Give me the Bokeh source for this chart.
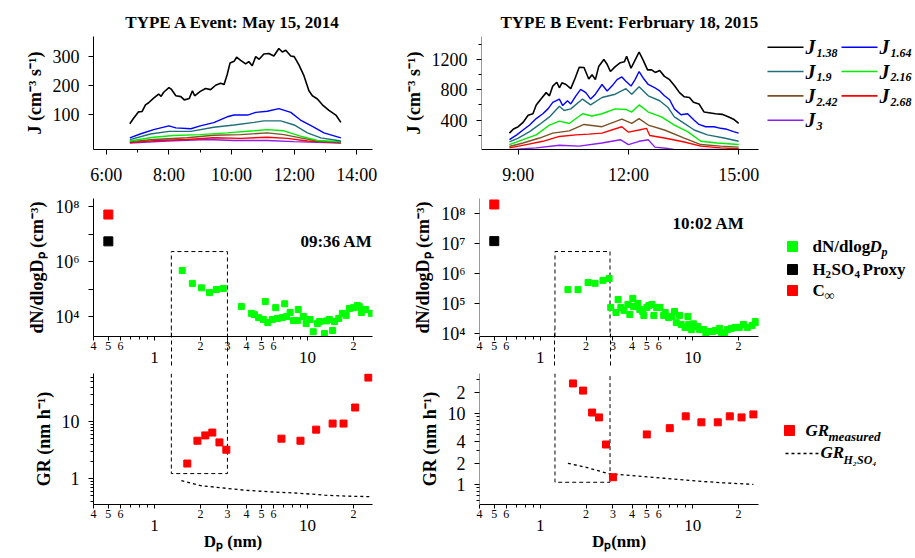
import numpy as np
from bokeh.plotting import figure
from bokeh.models import Range1d, FixedTicker, Label, LogAxis
from bokeh.layouts import row, column
from bokeh.embed import file_html
from bokeh.resources import INLINE
from bokeh.core.properties import value

SERIF = "Liberation Serif"

# ---------------- data: TYPE A (May 15, 2014) nucleation rates ----------------
tA_138 = [6.75, 6.87, 7.03, 7.14, 7.25, 7.35, 7.51, 7.67, 7.75, 7.83, 8.0, 8.07, 8.22, 8.38, 8.49, 8.65,
          8.75, 8.82, 9.0, 9.17, 9.33, 9.49, 9.65, 9.76, 9.86, 9.95, 10.08, 10.16, 10.29, 10.45, 10.55,
          10.66, 10.77, 10.88, 11.03, 11.19, 11.35, 11.51, 11.62, 11.73, 11.89, 12.0, 12.15, 12.31,
          12.47, 12.58, 12.74, 12.9, 13.11, 13.33, 13.49]
JA_138 = [68, 87, 109, 110, 133, 140, 156, 170, 162, 176, 192, 187, 164, 161, 150, 155,
          181, 164, 179, 189, 185, 200, 207, 203, 237, 276, 282, 296, 285, 273, 281,
          267, 298, 289, 307, 309, 300, 326, 314, 320, 300, 298, 270, 233,
          181, 164, 153, 133, 114, 98, 73]
tA_164 = [6.75, 7.08, 7.51, 8.0, 8.22, 8.7, 9.0, 9.43, 9.86, 10.08, 10.51, 10.77, 11.14, 11.51, 11.89,
          12.2, 12.58, 12.95, 13.49]
JA_164 = [20, 33, 48, 61, 54, 51, 61, 72, 92, 98, 98, 107, 111, 120, 107, 81, 59, 37, 20]
tA_19 = [6.75, 7.41, 8.0, 8.7, 9.43, 10.08, 10.72, 11.03, 11.57, 12.0, 12.42, 12.85, 13.49]
JA_19 = [14, 33, 42, 42, 56, 64, 73, 78, 78, 64, 37, 20, 9]
tA_216 = [6.75, 7.51, 8.15, 9.0, 9.86, 10.72, 11.14, 11.67, 12.2, 12.74, 13.49]
JA_216 = [9, 22, 28, 31, 37, 44, 48, 44, 26, 11, 7]
tA_242 = [6.75, 7.51, 8.58, 9.43, 10.29, 11.14, 11.67, 12.2, 12.74, 13.49]
JA_242 = [7, 14, 20, 29, 31, 37, 31, 20, 9, 4]
tA_268 = [6.75, 7.62, 8.58, 9.43, 10.29, 11.14, 11.78, 12.42, 13.49]
JA_268 = [4, 11, 14, 20, 18, 22, 18, 9, 3]
tA_3 = [6.75, 7.94, 9.22, 10.08, 11.14, 11.99, 13.49]
JA_3 = [2, 9, 14, 11, 11, 7, 2]

# ---------------- data: TYPE B (February 18, 2015) nucleation rates ----------------
tB_138 = [8.76, 8.87, 9.0, 9.13, 9.27, 9.4, 9.49, 9.63, 9.76, 9.85, 9.94, 10.05, 10.12, 10.19, 10.3,
          10.43, 10.55, 10.66, 10.79, 10.92, 11.01, 11.1, 11.19, 11.33, 11.42, 11.51, 11.64, 11.78,
          11.89, 11.95, 12.07, 12.16, 12.29, 12.4, 12.52, 12.63, 12.73, 12.85, 12.98, 13.12, 13.25,
          13.39, 13.52, 13.66, 13.77, 13.92, 14.06, 14.19, 14.37, 14.55, 14.73, 14.86, 15.0]
JB_138 = [227, 282, 312, 368, 462, 483, 599, 684, 761, 719, 847, 898, 825, 890, 868,
          813, 954, 1095, 1091, 941, 997, 932, 1104, 1198, 1134, 1039, 1104, 1155,
          1168, 1240, 1082, 1168, 1296, 1189, 1061, 1061, 1027, 1052, 975, 932, 855,
          761, 706, 697, 633, 612, 505, 496, 483, 475, 441, 411, 355]
tB_164 = [8.76, 8.96, 9.13, 9.31, 9.49, 9.67, 9.81, 9.94, 10.12, 10.21, 10.34, 10.43, 10.57, 10.7,
          10.84, 10.97, 11.1, 11.28, 11.42, 11.55, 11.69, 11.82, 11.93, 12.07, 12.18, 12.29, 12.4,
          12.54, 12.72, 12.85, 12.98, 13.12, 13.25, 13.43, 13.61, 13.79, 13.92, 14.1, 14.33, 14.51,
          14.68, 14.86, 15.0]
JB_164 = [141, 205, 269, 334, 419, 483, 547, 633, 676, 590, 654, 612, 719, 804,
          761, 676, 740, 868, 783, 847, 932, 967, 911, 847, 932, 1039, 954,
          868, 825, 783, 719, 667, 547, 470, 483, 398, 342, 312, 312, 291,
          278, 248, 227]
tB_19 = [8.76, 9.0, 9.31, 9.58, 9.85, 10.12, 10.25, 10.43, 10.75, 10.97, 11.28, 11.64, 11.93, 12.09,
         12.29, 12.54, 12.85, 13.07, 13.25, 13.52, 13.79, 14.15, 14.6, 15.0]
JB_19 = [111, 163, 248, 342, 441, 582, 526, 547, 676, 599, 697, 740, 813, 740,
         838, 719, 654, 569, 441, 355, 269, 205, 163, 120]
tB_216 = [8.76, 9.13, 9.49, 9.85, 10.12, 10.39, 10.75, 11.01, 11.28, 11.64, 11.93, 12.09, 12.29,
          12.54, 12.9, 13.25, 13.61, 13.97, 14.42, 15.0]
JB_216 = [77, 141, 205, 334, 385, 355, 483, 453, 483, 547, 539, 505, 599,
          505, 441, 334, 248, 120, 98, 77]
tB_242 = [8.76, 9.13, 9.58, 9.94, 10.39, 10.79, 11.28, 11.82, 12.09, 12.29, 12.54, 12.98, 13.52,
          13.97, 14.51, 15.0]
JB_242 = [51, 98, 163, 227, 257, 342, 312, 411, 355, 419, 334, 269, 163, 77, 56, 43]
tB_268 = [8.76, 9.22, 9.67, 10.12, 10.57, 10.92, 11.28, 11.82, 12.0, 12.29, 12.49, 12.58, 12.98,
          13.52, 13.97, 14.51, 15.0]
JB_268 = [34, 77, 120, 184, 205, 214, 227, 312, 240, 269, 291, 197, 163, 111, 56, 34, 21]
tB_3 = [8.76, 9.49, 10.12, 10.66, 11.28, 11.78, 12.0, 12.29, 12.54, 12.72, 13.07, 13.34, 13.97,
        14.51, 15.0]
JB_3 = [9, 34, 68, 56, 98, 141, 77, 120, 141, 43, 26, 4, 13, 13, 0]

J_names = ["1.38", "1.64", "1.9", "2.16", "2.42", "2.68", "3"]
J_colors = ["#000000", "#0000ff", "#1f6f78", "#00ee00", "#7a5226", "#ff0000", "#8a1ff0"]
A_series = [(tA_138, JA_138), (tA_164, JA_164), (tA_19, JA_19), (tA_216, JA_216),
            (tA_242, JA_242), (tA_268, JA_268), (tA_3, JA_3)]
B_series = [(tB_138, JB_138), (tB_164, JB_164), (tB_19, JB_19), (tB_216, JB_216),
            (tB_242, JB_242), (tB_268, JB_268), (tB_3, JB_3)]

time_ticks_A = [6, 8, 10, 12, 14]
time_labels_A = ["6:00", "8:00", "10:00", "12:00", "14:00"]
time_minor_A = [7, 9, 11, 13]
time_ticks_B = [9, 12, 15]
time_labels_B = ["9:00", "12:00", "15:00"]
J_ticks_A = [100, 200, 300]
J_ticks_B = [400, 800, 1200]
J_minor_B = [200, 600, 1000, 1400]

# ---------------- size distributions (dN/dlogDp) ----------------
distA_dp = [1.52, 1.77, 2.03, 2.29, 2.54, 2.82,
            3.7, 4.3, 4.5, 4.8, 5.15, 5.3, 5.5, 5.9, 6.2, 6.35, 6.85, 7.1, 7.3, 7.7, 8.1, 8.7, 8.6,
            9.4, 9.8, 10.4, 10.9, 11.6, 12.0, 12.9, 13.3, 13.9, 14.6, 15.0, 16.0, 16.9, 17.9, 18.8,
            20.0, 21.2, 21.8, 22.5, 23.9, 26.2]
distA_val = [4.7e5, 1.6e5, 1.1e5, 7.4e4, 9.6e4, 1.05e5,
             2.3e4, 1.3e4, 1.17e4, 9.1e3, 7.8e3, 3.5e4, 6.0e3, 7.8e3, 2.1e4, 8.5e3, 9.1e3, 2.9e4,
             1.0e4, 1.4e4, 7.1e3, 1.8e4, 7.1e3, 1.0e4, 5.6e3, 7.8e3, 2.8e3, 5.6e3, 6.6e3, 2.4e3,
             6.9e3, 7.8e3, 3.1e3, 6.6e3, 8.5e3, 1.3e4, 1.1e4, 1.95e4, 2.1e4, 2.5e4, 2.3e4, 1.4e4,
             1.8e4, 1.3e4]
distB_dp = [1.52, 1.77, 2.06, 2.29, 2.58, 2.83,
            2.9, 3.14, 3.24, 3.38, 3.54, 3.76, 3.87, 4.05, 4.1, 4.37, 4.5, 4.7, 4.78, 5.0, 5.16,
            5.4, 5.56, 5.8, 6.1, 6.45, 6.6, 6.95, 7.3, 7.6, 7.8, 8.2, 8.4, 8.9, 9.3, 9.4, 9.8, 10.1,
            10.8, 11.1, 11.8, 12.2, 12.9, 13.5, 14.1, 15.0, 15.4, 16.2, 16.9, 17.9, 19.0, 20.2,
            21.5, 22.8, 24.5, 25.7, 27.0]
distB_val = [2.9e5, 2.9e5, 5.0e5, 4.7e5, 5.9e5, 6.8e5,
             7.4e4, 5.0e4, 1.35e5, 7.4e4, 5.9e4, 9.3e4, 4.3e4, 1.48e5, 7.9e4, 1.0e5, 6.3e4, 5.4e4,
             4.0e4, 7.4e4, 8.5e4, 9.3e4, 4.0e4, 7.4e4, 7.4e4, 4.0e4, 5.0e4, 3.4e4, 3.7e4, 5.4e4,
             2.3e4, 4.0e4, 2.0e4, 1.6e4, 3.7e4, 2.0e4, 1.35e4, 2.1e4, 1.7e4, 1.35e4, 1.35e4,
             1.0e4, 1.17e4, 1.17e4, 1.26e4, 1.48e4, 1.07e4, 9.3e3, 1.35e4, 1.48e4, 1.6e4, 1.6e4,
             2.0e4, 1.6e4, 1.86e4, 2.5e4, 2.3e4]
proxyA_dp, proxyA_val = [0.5], [5.4e6]
cinfA_dp, cinfA_val = [0.5], [5.1e7]
proxyB_dp, proxyB_val = [0.5], [1.2e7]
cinfB_dp, cinfB_val = [0.5], [2.0e8]

# ---------------- growth rates ----------------
grA_dp = [1.64, 1.91, 2.15, 2.39, 2.66, 2.95, 6.76, 9.0, 11.4, 14.6, 17.2, 20.5, 25.0]
grA_val = [1.83, 4.6, 5.7, 6.4, 4.3, 3.2, 5.0, 4.6, 7.2, 9.2, 9.2, 17.6, 59.0]
grB_dp = [1.64, 1.91, 2.19, 2.43, 2.7, 3.0, 5.0, 7.07, 9.0, 11.4, 14.6, 17.5, 20.9, 25.0]
grB_val = [26.5, 21.0, 10.3, 8.8, 3.65, 1.26, 5.06, 6.2, 9.1, 7.5, 7.5, 9.1, 8.8, 9.7]
h2so4A_dp = [1.5, 2.0, 3.0, 4.0, 6.0, 9.0, 13.0, 18.0, 26.0]
h2so4A_gr = [0.92, 0.75, 0.67, 0.62, 0.58, 0.55, 0.51, 0.49, 0.48]
h2so4B_dp = [1.52, 2.0, 2.8, 3.9, 6.5, 10.8, 16.0, 25.0]
h2so4B_gr = [1.98, 1.74, 1.42, 1.34, 1.22, 1.11, 1.05, 1.0]

# dashed "cluster" boxes (Dp limits, top in dN/dlogDp, bottom in GR)
boxA_dp, boxA_top, boxA_bottom = [1.29, 3.0], 2.3e6, 1.22
boxB_dp, boxB_top, boxB_bottom = [1.25, 2.87], 5.4e6, 1.07

# axis ranges
tA_range, JA_range = (5.59, 14.5), (-20, 367)
tB_range, JB_range = (8.0, 15.54), (12, 1500)
dpA_range, dpB_range = (0.4, 26.6), (0.4, 27.0)
dnA_range, dnB_range = (10 ** 3.273, 10 ** 8.291), (10 ** 3.9, 10 ** 8.5)
grA_range, grB_range = (0.35, 69.5), (0.52, 36.6)

# log-axis ticks
dp_ticks = [0.4, 0.5, 0.6, 1, 2, 3, 4, 5, 6, 10, 20]
dp_tick_labels = ["4", "5", "6", "", "2", "3", "4", "5", "6", "", "2"]
dp_minor = [0.7, 0.8, 0.9, 7, 8, 9, 30]
dp_decades = [1, 10]
dp_decade_labels = ["1", "10"]
dn_ticks = [1e4, 1e5, 1e6, 1e7, 1e8]
dn_labels_A = ["10⁴", "", "10⁶", "", "10⁸"]
dn_labels_B = ["10⁴", "10⁵", "10⁶", "10⁷", "10⁸"]
grA_ticks, grA_labels = [1, 10], ["1", "10"]
grA_minor = [0.4, 0.5, 0.6, 0.7, 0.8, 0.9, 2, 3, 4, 5, 6, 7, 8, 9, 20, 30, 40, 50, 60]
grB_ticks, grB_labels = [1, 2, 4, 10, 20], ["1", "2", "4", "10", "2"]
grB_minor = [0.6, 0.7, 0.8, 0.9, 3, 5, 6, 7, 8, 9, 30]

# layout (pixels): row heights and column widths
H1, H2, H3 = 187, 186, 185
WL, WR, WG = 400, 365, 148


def style_axis(ax):
    ax.axis_line_color = "black"
    ax.axis_line_width = 1
    ax.major_tick_line_color = "black"
    ax.minor_tick_line_color = "black"
    ax.major_tick_out = 5
    ax.major_tick_in = 0
    ax.minor_tick_out = 3
    ax.minor_tick_in = 0
    ax.major_label_text_font = SERIF
    ax.major_label_text_font_size = "18px"
    ax.major_label_text_color = "black"
    ax.axis_label_text_font = SERIF
    ax.axis_label_text_font_style = "bold"
    ax.axis_label_text_font_size = "18px"
    ax.axis_label_text_color = "black"


def base_fig(w, h, xr, yr, bl, br, bt, bb, xtype="linear", ytype="linear", title=None):
    p = figure(width=w, height=h, x_range=Range1d(*xr), y_range=Range1d(*yr),
               x_axis_type=xtype, y_axis_type=ytype,
               min_border_left=bl, min_border_right=br, min_border_top=bt, min_border_bottom=bb,
               output_backend="svg", toolbar_location=None, title=title)
    p.outline_line_color = None
    p.xgrid.visible = False
    p.ygrid.visible = False
    p.background_fill_color = "white"
    p.border_fill_color = "white"
    for ax in p.axis:
        style_axis(ax)
    if title:
        p.title.text_font = SERIF
        p.title.text_font_size = "17px"
        p.title.text_font_style = "bold"
        p.title.align = "center"
        p.title.text_color = "black"
    return p


def set_ticks(ax, ticks, labels, minor=None):
    ax.ticker = FixedTicker(ticks=ticks, minor_ticks=minor or [])
    ax.major_label_overrides = {t: l for t, l in zip(ticks, labels)}


def dp_axes(p, box=None, box_len=36, label=None):
    ax1 = p.xaxis[0]
    set_ticks(ax1, dp_ticks, dp_tick_labels, dp_minor)
    ax1.major_label_text_font_size = "12px"
    ax1.major_tick_out = 4
    ax1.minor_tick_out = 3
    ax1.major_label_standoff = 1
    ax2 = LogAxis()
    style_axis(ax2)
    set_ticks(ax2, dp_decades, dp_decade_labels)
    ax2.axis_line_color = None
    ax2.major_tick_line_color = None
    ax2.minor_tick_line_color = None
    ax2.major_tick_out = 0
    ax2.minor_tick_out = 0
    ax2.major_label_standoff = -1
    ax2.major_label_text_font_size = "17px"
    if label:
        ax2.axis_label = label
        ax2.axis_label_text_font_size = "17px"
        ax2.axis_label_standoff = -2
    p.add_layout(ax2, "below")
    if box:
        ax3 = LogAxis()
        style_axis(ax3)
        set_ticks(ax3, box, ["" for _ in box])
        ax3.axis_line_color = None
        ax3.minor_tick_line_color = None
        ax3.major_tick_out = 0
        ax3.major_tick_in = box_len
        ax3.major_tick_line_dash = "4 3"
        ax3.major_label_standoff = 0
        ax3.major_label_text_font_size = "0px"
        p.add_layout(ax3, "below")


def stamp(p, x, y, s):
    p.add_layout(Label(x=x, y=y, x_units="screen", y_units="screen", text=s,
                       text_align="center", text_baseline="middle", text_font=SERIF,
                       text_font_size="17px", text_font_style="bold", text_color="black"))


def legend_fig(h, bt, bb, y0, y1):
    g = figure(width=WG, height=h, x_range=Range1d(765, 765 + WG), y_range=Range1d(y1, y0),
               x_axis_location=None, y_axis_location=None, min_border_left=0, min_border_right=0,
               min_border_top=bt, min_border_bottom=bb, title=None,
               output_backend="svg", toolbar_location=None)
    g.outline_line_color = None
    g.grid.visible = False
    return g


def ltxt(p, x, y, s, size, style="bold"):
    p.text([x], [y], text=[s], text_font=value(SERIF), text_font_size=size,
           text_font_style=style, text_baseline="middle", text_color="black")


# ---------------- row 1: J time series (frames y 36..152) ----------------
tl = base_fig(WL, H1, tA_range, JA_range, 93, 28, 36, 35, title="TYPE A Event: May 15, 2014")
set_ticks(tl.xaxis[0], time_ticks_A, time_labels_A, time_minor_A)
set_ticks(tl.yaxis[0], J_ticks_A, [str(v) for v in J_ticks_A])
tl.xaxis.major_label_standoff = 10
tl.yaxis.major_label_standoff = 9
tl.yaxis.axis_label = "J (cm⁻³ s⁻¹)"
for (t, j), c in zip(A_series[::-1], J_colors[::-1]):
    tl.line(t, j, line_color=c, line_width=1.6 if c == "#000000" else 1.4)

tr = base_fig(WR, H1, tB_range, JB_range, 79, 7, 36, 35, title="TYPE B Event: Ferbruary 18, 2015")
tr.title.align = "left"
tr.title.offset = 19
set_ticks(tr.xaxis[0], time_ticks_B, time_labels_B)
set_ticks(tr.yaxis[0], J_ticks_B, [str(v) for v in J_ticks_B], J_minor_B)
tr.xaxis.major_label_standoff = 10
tr.yaxis.major_label_standoff = 9
tr.yaxis.axis_line_color = "#999999"
tr.yaxis.axis_label = "J (cm⁻³ s⁻¹)"
for (t, j), c in zip(B_series[::-1], J_colors[::-1]):
    tr.line(t, j, line_color=c, line_width=1.6 if c == "#000000" else 1.4)

leg1 = legend_fig(H1, 36, 35, 36, 152)
rows_y = [47, 72, 97, 122]
for i, (nm, c) in enumerate(zip(J_names, J_colors)):
    r, col = divmod(i, 2)
    x0 = 767 if col == 0 else 841
    y0 = rows_y[r]
    leg1.line([x0, x0 + 36], [y0, y0], line_color=c, line_width=1.6)
    ltxt(leg1, x0 + 38, y0, "J", "20px", "bold italic")
    ltxt(leg1, x0 + 49, y0 + 6, nm, "12px", "bold italic")

# ---------------- row 2: size distributions (frames y 198..336) ----------------
ml = base_fig(WL, H2, dpA_range, dnA_range, 93, 28, 11, 37, xtype="log", ytype="log")
dp_axes(ml, box=boxA_dp)
set_ticks(ml.yaxis[0], dn_ticks, dn_labels_A)
ml.yaxis.major_label_standoff = 9
ml.yaxis.axis_label = "dN/dlogDₚ (cm⁻³)"
ml.line([boxA_dp[0], boxA_dp[0], boxA_dp[1], boxA_dp[1]],
        [dnA_range[0], boxA_top, boxA_top, dnA_range[0]],
        line_color="black", line_dash="4 3", line_width=1)
ml.scatter(distA_dp, distA_val, marker="square", size=6, color="#00ff00")
ml.scatter(proxyA_dp, proxyA_val, marker="square", size=9, color="black")
ml.scatter(cinfA_dp, cinfA_val, marker="square", size=9, color="red")
stamp(ml, 243, 95, "09:36 AM")

mr = base_fig(WR, H2, dpB_range, dnB_range, 79, 7, 11, 37, xtype="log", ytype="log")
dp_axes(mr, box=boxB_dp)
set_ticks(mr.yaxis[0], dn_ticks, dn_labels_B)
mr.yaxis.major_label_standoff = 9
mr.yaxis.axis_line_color = "#999999"
mr.yaxis.axis_label = "dN/dlogDₚ (cm⁻³)"
mr.line([boxB_dp[0], boxB_dp[0], boxB_dp[1], boxB_dp[1]],
        [dnB_range[0], boxB_top, boxB_top, dnB_range[0]],
        line_color="black", line_dash="4 3", line_width=1)
mr.scatter(distB_dp, distB_val, marker="square", size=6, color="#00ff00")
mr.scatter(proxyB_dp, proxyB_val, marker="square", size=9, color="black")
mr.scatter(cinfB_dp, cinfB_val, marker="square", size=9, color="red")
stamp(mr, 229, 113, "10:02 AM")

leg2 = legend_fig(H2, 11, 37, 198, 336)
leg2.scatter([792, 792, 792], [246, 269, 290], marker="square", size=10,
             color=["#00ff00", "black", "red"])
ltxt(leg2, 812, 246, "dN/dlog", "17px")
ltxt(leg2, 869, 246, "D", "17px", "bold italic")
ltxt(leg2, 881, 251, "p", "12px", "bold italic")
ltxt(leg2, 812, 269, "H", "17px")
ltxt(leg2, 825, 274, "2", "11px")
ltxt(leg2, 831, 269, "SO", "17px")
ltxt(leg2, 854, 274, "4", "11px")
ltxt(leg2, 862, 269, "Proxy", "17px")
ltxt(leg2, 812, 290, "C", "17px")
ltxt(leg2, 824, 295, "∞", "14px")

# ---------------- row 3: growth rates (frames y 373..504) ----------------
bl = base_fig(WL, H3, dpA_range, grA_range, 93, 28, 0, 54, xtype="log", ytype="log")
dp_axes(bl, label="Dₚ (nm)")
set_ticks(bl.yaxis[0], grA_ticks, grA_labels, grA_minor)
bl.yaxis.major_label_standoff = 9
bl.yaxis.axis_label = "GR (nm h⁻¹)"
bl.line([boxA_dp[0], boxA_dp[0], boxA_dp[1], boxA_dp[1]],
        [grA_range[1], boxA_bottom, boxA_bottom, grA_range[1]],
        line_color="black", line_dash="4 3", line_width=1)
bl.line(h2so4A_dp, h2so4A_gr, line_color="black", line_dash="3 3", line_width=1.3)
bl.scatter(grA_dp, grA_val, marker="square", size=7, color="red")

br = base_fig(WR, H3, dpB_range, grB_range, 79, 7, 0, 54, xtype="log", ytype="log")
dp_axes(br, label="Dₚ(nm)")
set_ticks(br.yaxis[0], grB_ticks, grB_labels, grB_minor)
br.yaxis.major_label_standoff = 9
br.yaxis.axis_line_color = "#999999"
br.yaxis.axis_label = "GR (nm h⁻¹)"
br.line([boxB_dp[0], boxB_dp[0], boxB_dp[1], boxB_dp[1]],
        [grB_range[1], boxB_bottom, boxB_bottom, grB_range[1]],
        line_color="black", line_dash="4 3", line_width=1)
br.line(h2so4B_dp, h2so4B_gr, line_color="black", line_dash="3 3", line_width=1.3)
br.scatter(grB_dp, grB_val, marker="square", size=7, color="red")

leg3 = legend_fig(H3, 0, 54, 373, 504)
leg3.scatter([789], [430], marker="square", size=10, color="red")
ltxt(leg3, 805, 430, "GR", "17px", "bold italic")
ltxt(leg3, 828, 436, "measured", "13px", "bold italic")
leg3.line([785, 818], [453, 453], line_color="black", line_dash="3 3", line_width=1.3)
ltxt(leg3, 820, 452, "GR", "17px", "bold italic")
ltxt(leg3, 843, 459, "H₂SO₄", "12px", "bold italic")

layout = column(row(tl, tr, leg1), row(ml, mr, leg2), row(bl, br, leg3))
open("out.html", "w").write(file_html(layout, INLINE))
